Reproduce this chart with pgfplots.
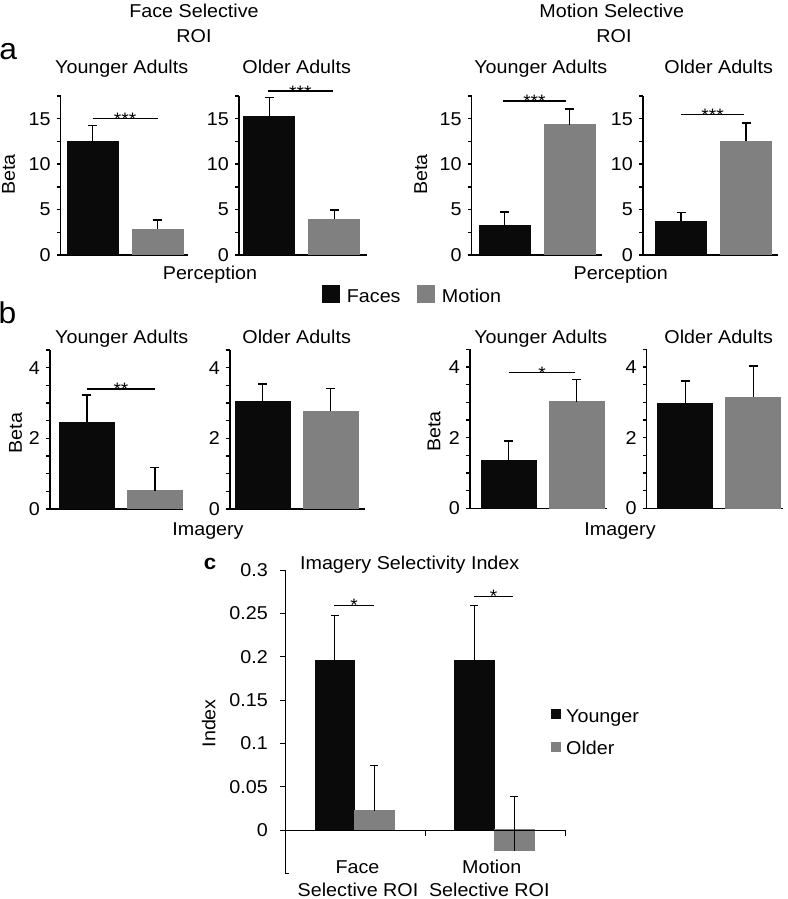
\documentclass[border=0pt]{standalone}
\usepackage{pgfplots}
\pgfplotsset{compat=1.18}
\usepackage{fontspec}
\setmainfont{Liberation Sans}[FakeStretch=1.06]
\definecolor{barblack}{RGB}{10,10,10}
\definecolor{bargray}{RGB}{128,128,128}
\newcommand{\fs}{\fontsize{18.6}{22}\selectfont}
\newcommand{\stars}{\fontsize{18}{18}\selectfont}
\pgfplotsset{
  mini/.style={
    scale only axis, anchor=south west, clip=false,
    axis x line*=bottom, axis y line*=left,
    axis line style={line width=1.5pt,-},
    tick style={line width=1.5pt, black},
    tick align=outside, major tick length=4pt,
    xtick=\empty, ymin=0, height=159pt,
    /pgf/number format/assume math mode=true,
    tick label style={font=\fs, inner sep=1pt},
    yticklabel style={xshift=-5pt},
  },
  miniA/.style={mini, ymax=17.5, ytick={0,2.5,5,7.5,10,12.5,15,17.5}, yticklabels={0,,5,,10,,15,}},
  miniB/.style={mini, ymax=4.5, ytick={0,0.5,1,1.5,2,2.5,3,3.5,4,4.5}, yticklabels={0,,,,2,,,,4,}},
  barA/.style={ybar, bar shift=0pt, bar width=51pt, draw=#1, line width=0pt, fill=#1,
      error bars/.cd, y dir=plus, y explicit, error mark=|,
      error bar style={line width=1.5pt, draw=black, solid},
      error mark options={line width=1.5pt, mark size=4.5pt, draw=black, solid}},
  barB/.style={ybar, bar shift=0pt, bar width=55pt, draw=#1, line width=0pt, fill=#1,
      error bars/.cd, y dir=plus, y explicit, error mark=|,
      error bar style={line width=1.5pt, draw=black, solid},
      error mark options={line width=1.5pt, mark size=4.5pt, draw=black, solid}},
  barC/.style={ybar, bar shift=0pt, bar width=39.6pt, draw=#1, line width=0pt, fill=#1,
      error bars/.cd, y dir=plus, y explicit, error mark=|,
      error bar style={line width=0.9pt, draw=black, solid},
      error mark options={line width=0.9pt, mark size=4pt, draw=black, solid}},
}
\tikzset{t/.style={inner sep=0pt, font=\fs}}
\newcommand{\sig}[4]{% x1, x2, y, text
  \draw[line width=1.4pt] (axis cs:#1,#3) -- (axis cs:#2,#3);
  \node[inner sep=0pt, font=\stars, anchor=base, yshift=-7pt] at (axis cs:{(#1+#2)/2},#3) {#4};}
\begin{document}
\begin{tikzpicture}[x=1pt,y=1pt]
\useasboundingbox (0,0) rectangle (787,899);

% ---------- headings ----------
\node[t, anchor=base] at (194,881.7) {Face Selective};
\node[t, anchor=base] at (194,856.7) {ROI};
\node[t, anchor=base] at (611.7,881.7) {Motion Selective};
\node[t, anchor=base] at (614,856.7) {ROI};
\node[inner sep=0pt, font=\fontsize{30}{30}\selectfont, anchor=base] at (8.3,839) {a};
\node[inner sep=0pt, font=\fontsize{30}{30}\selectfont, anchor=base] at (7.5,575.7) {b};
\node[inner sep=0pt, font=\fontsize{21}{21}\selectfont\bfseries, anchor=base] at (210,329) {c};

\node[t, anchor=base] at (121.7,825.7) {Younger Adults};
\node[t, anchor=base] at (296.7,825.7) {Older Adults};
\node[t, anchor=base] at (540.8,825.7) {Younger Adults};
\node[t, anchor=base] at (718.7,825.7) {Older Adults};
\node[t, anchor=base] at (121.7,555.7) {Younger Adults};
\node[t, anchor=base] at (296.7,555.7) {Older Adults};
\node[t, anchor=base] at (540.8,555.7) {Younger Adults};
\node[t, anchor=base] at (718.7,555.7) {Older Adults};

\node[t, rotate=90] at (8.5,724.3) {Beta};
\node[t, rotate=90] at (420.8,724.5) {Beta};
\node[t, rotate=90] at (15.5,466) {Beta};
\node[t, rotate=90] at (434,467.3) {Beta};

\node[t, anchor=base] at (210,619) {Perception};
\node[t, anchor=base] at (620.8,619) {Perception};
\node[t, anchor=base] at (208,363) {Imagery};
\node[t, anchor=base] at (620,363) {Imagery};

% legend a/b
\fill[barblack] (321.7,595.7) rectangle (340,614);
\node[t, anchor=base west] at (346.7,596.3) {Faces};
\fill[bargray] (416.7,595.7) rectangle (435,614);
\node[t, anchor=base west] at (441.7,596.3) {Motion};

% ---------- row a ----------
\begin{axis}[miniA, at={(60.7pt,644pt)}, xmin=0.51, xmax=2.47, width=127.4pt]
\addplot[barA=barblack] coordinates {(1,12.5) +- (0,1.77)};
\addplot[barA=bargray] coordinates {(2,2.82) +- (0,1.02)};
\sig{1}{2}{15}{***}
\end{axis}
\begin{axis}[miniA, at={(239pt,644pt)}, xmin=0.531, xmax=2.496, width=127.7pt]
\addplot[barA=barblack] coordinates {(1,15.26) +- (0,2.08)};
\addplot[barA=bargray] coordinates {(2,3.95) +- (0,0.99)};
\sig{0.97}{1.98}{18.04}{***}
\end{axis}
\begin{axis}[miniA, at={(471.7pt,644pt)}, xmin=0.495, xmax=2.495, width=130pt]
\addplot[barA=barblack] coordinates {(1,3.27) +- (0,1.45)};
\addplot[barA=bargray] coordinates {(2,14.35) +- (0,1.74)};
\sig{0.97}{1.95}{16.96}{***}
\end{axis}
\begin{axis}[miniA, at={(643pt,644pt)}, xmin=0.415, xmax=2.492, width=135pt]
\addplot[barA=barblack] coordinates {(1,3.74) +- (0,0.91)};
\addplot[barA=bargray] coordinates {(2,12.53) +- (0,1.99)};
\sig{1}{1.97}{15.44}{***}
\end{axis}

% ---------- row b ----------
\begin{axis}[miniB, at={(50pt,390pt)}, xmin=0.456, xmax=2.412, width=133pt]
\addplot[barB=barblack] coordinates {(1,2.46) +- (0,0.76)};
\addplot[barB=bargray] coordinates {(2,0.52) +- (0,0.66)};
\sig{1}{2}{3.4}{**}
\end{axis}
\begin{axis}[miniB, at={(230pt,390pt)}, xmin=0.522, xmax=2.507, width=135pt]
\addplot[barB=barblack] coordinates {(1,3.03) +- (0,0.51)};
\addplot[barB=bargray] coordinates {(2,2.76) +- (0,0.65)};
\end{axis}
\begin{axis}[miniB, at={(470pt,390.7pt)}, xmin=0.431, xmax=2.441, width=136.7pt]
\addplot[barB=barblack] coordinates {(1,1.35) +- (0,0.56)};
\addplot[barB=bargray] coordinates {(2,3.02) +- (0,0.63)};
\sig{1}{1.98}{3.84}{*}
\end{axis}
\begin{axis}[miniB, at={(646.7pt,390.7pt)}, xmin=0.432, xmax=2.436, width=136.3pt]
\addplot[barB=barblack] coordinates {(1,2.98) +- (0,0.62)};
\addplot[barB=bargray] coordinates {(2,3.14) +- (0,0.89)};
\end{axis}

% ---------- panel c ----------
\node[t, anchor=base] at (409.7,329) {Imagery Selectivity Index};
\node[t, rotate=90] at (208.8,175.7) {Index};
\fill[barblack] (550.7,180.2) rectangle (560.7,190.2);
\node[t, anchor=base west] at (566,176.3) {Younger};
\fill[bargray] (550.7,147.3) rectangle (560.7,157.3);
\node[t, anchor=base west] at (566,144) {Older};
\node[t, anchor=base] at (357.5,25.7) {Face};
\node[t, anchor=base] at (358,2.4) {Selective ROI};
\node[t, anchor=base] at (491.7,25.7) {Motion};
\node[t, anchor=base] at (489.3,2.4) {Selective ROI};

\begin{axis}[scale only axis, anchor=south west, at={(285pt,25.7pt)},
  width=280pt, height=303.3pt, clip=false,
  xmin=0, xmax=2, ymin=-0.05, ymax=0.3,
  axis x line=none, axis y line*=left,
  axis line style={line width=0.9pt,-},
  tick style={line width=0.9pt, black}, tick align=outside, major tick length=5pt,
  xtick=\empty,
  ytick={0,0.05,0.1,0.15,0.2,0.25,0.3},
  yticklabels={0,0.05,0.1,0.15,0.2,0.25,0.3},
  /pgf/number format/assume math mode=true,
  tick label style={font=\fs, inner sep=1pt},
  yticklabel style={xshift=-11pt}]
\addplot[barC=barblack] coordinates {(0.356,0.195) +- (0,0.052) (1.352,0.195) +- (0,0.064)};
\addplot[barC=bargray] coordinates {(0.638,0.022) +- (0,0.053) (1.638,-0.024) +- (0,0.063)};
\draw[line width=0.9pt] (axis cs:0,0) -- (axis cs:2,0);
\draw[line width=0.9pt] (axis cs:1,0) -- ++(0pt,-6pt);
\draw[line width=0.9pt] (axis cs:2,0) -- ++(0pt,-6pt);
\draw[line width=0.9pt] (axis cs:0,-0.05) -- ++(4pt,0pt);
\draw[line width=0.9pt] (axis cs:0.35,0.2596) -- (axis cs:0.636,0.2596);
\node[inner sep=0pt, font=\stars, anchor=base, yshift=-6pt] at (axis cs:0.493,0.2596) {*};
\draw[line width=0.9pt] (axis cs:1.35,0.2693) -- (axis cs:1.63,0.2693);
\node[inner sep=0pt, font=\stars, anchor=base, yshift=-6pt] at (axis cs:1.49,0.2693) {*};
\end{axis}
\end{tikzpicture}
\end{document}
